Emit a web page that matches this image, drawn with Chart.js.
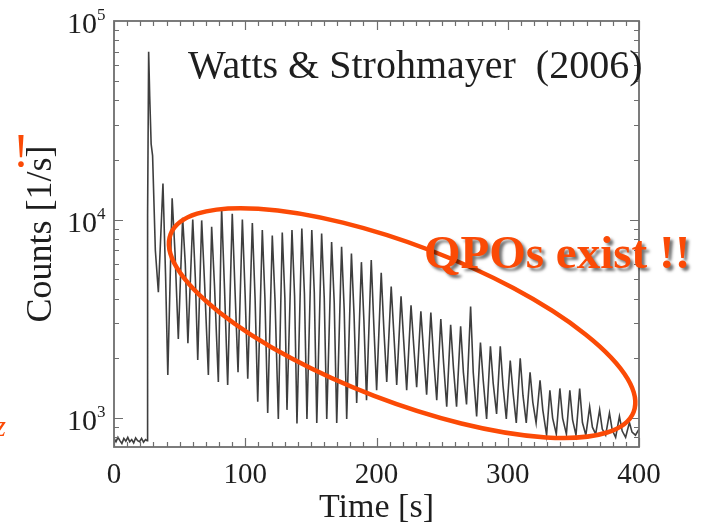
<!DOCTYPE html>
<html>
<head>
<meta charset="utf-8">
<title>Giant flare light curve</title>
<script src="https://cdn.jsdelivr.net/npm/chart.js@4.4.1/dist/chart.umd.min.js"></script>
<style>
  html, body { margin: 0; padding: 0; background: #fff; }
  #wrap { width: 708px; height: 528px; }
</style>
</head>
<body>
<div id="wrap"><canvas id="lightCurve" width="708" height="528"></canvas></div>
<script>
// time after start [s]
const timeS = [
  0, 1.5, 3, 4.5, 6, 7.5, 9, 10.5, 12, 13.5, 15, 16.5, 18, 19.5, 21, 22.5, 24, 25.2,
  25.6, 26.4, 27.2, 28.3, 29.4, 31.5, 33.8,
  37.3, 39.3, 41.0, 44.3, 46.5, 49.0, 52.3, 54.3, 56.3, 60.0, 62.0, 63.8,
  66.8, 69.0, 71.9, 74.4, 76.6, 79.5, 82.0, 84.2, 86.6, 90.1, 92.2, 94.5,
  97.8, 99.9, 101.9, 105.4, 107.5, 109.5, 113.0, 115.0, 117.1, 120.6, 122.7, 125.2,
  128.2, 130.2, 131.8, 135.6, 137.6, 139.4, 143.1, 145.1, 147.0, 150.7, 152.6, 154.5,
  158.2, 160.2, 162.1, 165.8, 167.8, 169.7, 173.4, 175.4, 177.3, 180.9, 182.9, 184.9,
  188.5, 190.4, 192.4, 196.0, 198.0, 200.1, 203.6, 205.6, 207.8, 211.2, 213.3, 215.4,
  218.7, 220.8, 223.0, 226.3, 228.4, 230.6, 233.8, 236.0, 238.2, 241.4, 243.5, 245.9,
  249.0, 251.1, 253.5, 256.5, 258.6, 261.0, 264.1, 266.2, 268.6, 271.7, 273.7, 276.3,
  279.2, 281.3, 283.9, 286.8, 288.9, 291.5, 294.3, 296.4, 298.9, 301.9, 304.0, 306.5,
  309.5, 311.6, 314.1, 317.0, 319.1, 321.6, 324.6, 326.7, 329.6, 332.1, 334.2, 337.0,
  339.7, 341.8, 344.7, 347.3, 349.4, 352.0, 354.8, 356.9, 359.5, 362.4, 364.5, 367.0,
  370.0, 372.0, 374.6, 377.5, 379.6, 382.2, 385.1, 387.2, 389.8, 392.7, 394.7, 397.3,
  400.0
];

// count rate [1/s]
const countRate = [
  790, 760, 800, 770, 745, 790, 765, 800, 760, 780, 750, 795, 770, 760, 790, 755, 780, 770,
  10500, 70000, 42000, 24000, 21000, 7000, 4300,
  15200, 5200, 1650, 12800, 6800, 2500, 10200, 6000, 2380, 10000, 5000, 1960,
  9900, 4800, 1650, 9200, 4600, 1520, 11400, 4500, 1470, 10700, 4400, 1700,
  10000, 4200, 1580, 9600, 4000, 1210, 8850, 4000, 1060, 8300, 3900, 990,
  8600, 4000, 1100, 8850, 4100, 940, 9000, 4200, 990, 8850, 4300, 945,
  8500, 4000, 990, 7700, 3800, 945, 7300, 3500, 990, 6750, 3300, 1190,
  6100, 3100, 1230, 6250, 2900, 1380, 5400, 2800, 1520, 4600, 2600, 1470,
  4100, 2400, 1380, 3700, 2300, 1430, 3450, 2100, 1310, 3400, 2000, 1230,
  3150, 1900, 1140, 2950, 1800, 1140, 2900, 1700, 1170, 3650, 1700, 1020,
  2400, 1550, 990, 2300, 1500, 1050, 2300, 1450, 990, 1950, 1350, 945,
  2000, 1300, 945, 1700, 1200, 945, 1550, 1100, 820, 1380, 1000, 830,
  1410, 1000, 830, 1380, 980, 820, 1410, 950, 820, 1140, 900, 830,
  1100, 880, 820, 1060, 870, 800, 1020, 860, 800, 950, 850, 820,
  880
];

const timeTicks = [0, 100, 200, 300, 400];
const countDecades = [3, 4, 5];

const serif = '"Liberation Serif", "DejaVu Serif", serif';
const ink = '#1e1e1e';
const orange = '#fb4a06';

// box with inward ticks on all four sides
const framePlugin = {
  id: 'frame',
  afterDatasetsDraw(chart) {
    const { ctx, chartArea: a, scales: { x, y } } = chart;
    ctx.save();
    ctx.strokeStyle = '#6e6e6e';
    ctx.lineWidth = 1.2;
    ctx.beginPath();
    for (let t = 0; t <= 400; t += 10) {
      const px = Math.round(x.getPixelForValue(t)) + 0.5;
      const len = t % 100 === 0 ? 9 : 5;
      ctx.moveTo(px, a.bottom); ctx.lineTo(px, a.bottom - len);
      ctx.moveTo(px, a.top); ctx.lineTo(px, a.top + len);
    }
    for (let d = 2; d <= 4; d++) {
      for (let m = 1; m <= 9; m++) {
        const v = m * Math.pow(10, d);
        if (v < y.min || v > y.max) continue;
        const py = Math.round(y.getPixelForValue(v)) + 0.5;
        const len = m === 1 ? 9 : 5;
        ctx.moveTo(a.left, py); ctx.lineTo(a.left + len, py);
        ctx.moveTo(a.right, py); ctx.lineTo(a.right - len, py);
      }
    }
    ctx.stroke();
    ctx.lineWidth = 1.8;
    ctx.strokeRect(a.left, a.top, a.right - a.left, a.bottom - a.top);
    ctx.restore();
  }
};

// decade labels with raised exponents, plus the annotations
const notesPlugin = {
  id: 'notes',
  afterDraw(chart) {
    const { ctx, scales: { x, y } } = chart;
    ctx.save();
    ctx.fillStyle = ink;
    ctx.textBaseline = 'alphabetic';
    countDecades.forEach(d => {
      const py = y.getPixelForValue(Math.pow(10, d));
      ctx.font = '30px ' + serif;
      ctx.textAlign = 'right';
      ctx.fillText('10', 97, py + 12);
      ctx.font = '17px ' + serif;
      ctx.textAlign = 'left';
      ctx.fillText(String(d), 97, py - 1);
    });

    ctx.font = '40px ' + serif;
    ctx.textAlign = 'left';
    ctx.fillText('Watts & Strohmayer  (2006)', 188, 78);

    // ellipse around the oscillating tail
    const cx = x.getPixelForValue(219.5);
    const cy = y.getPixelForValue(3010);
    ctx.strokeStyle = orange;
    ctx.lineWidth = 4.5;
    ctx.beginPath();
    ctx.ellipse(cx, cy, 248, 78, 21 * Math.PI / 180, 0, 2 * Math.PI);
    ctx.stroke();

    ctx.font = 'bold 47px ' + serif;
    ctx.shadowColor = 'rgba(0, 0, 0, 0.55)';
    ctx.shadowOffsetX = 3;
    ctx.shadowOffsetY = 3;
    ctx.shadowBlur = 3;
    ctx.fillStyle = orange;
    ctx.fillText('QPOs exist !!', 424, 268);
    ctx.shadowColor = 'transparent';

    // pieces of neighbouring slide text
    ctx.font = '48px ' + serif;
    ctx.textAlign = 'center';
    ctx.fillText('!', 21, 167);
    ctx.font = 'italic 30px ' + serif;
    ctx.textAlign = 'right';
    ctx.fillText('z', 6, 436);
    ctx.restore();
  }
};

const points = timeS.map((t, i) => ({ x: t, y: countRate[i] }));

new Chart(document.getElementById('lightCurve'), {
  type: 'line',
  data: {
    datasets: [{
      label: 'Counts',
      data: points,
      borderColor: 'rgba(20, 20, 20, 0.82)',
      borderWidth: 1.6,
      pointRadius: 0,
      tension: 0,
      fill: false
    }]
  },
  options: {
    responsive: false,
    animation: false,
    devicePixelRatio: 1,
    layout: { padding: { left: 0, right: 69, top: 21, bottom: 0 } },
    plugins: { legend: { display: false }, tooltip: { enabled: false } },
    scales: {
      x: {
        type: 'linear',
        min: 0,
        max: 400,
        afterBuildTicks: s => { s.ticks = timeTicks.map(v => ({ value: v })); },
        afterFit: s => { s.height = 81; },
        grid: { display: false, drawTicks: false },
        border: { display: false },
        ticks: { color: ink, font: { family: serif, size: 29 }, padding: 11, maxRotation: 0 },
        title: { display: true, text: 'Time [s]', color: ink, font: { family: serif, size: 34 }, padding: 0 }
      },
      y: {
        type: 'logarithmic',
        min: 715,
        max: 100000,
        afterFit: s => { s.width = 114; },
        grid: { display: false, drawTicks: false },
        border: { display: false },
        ticks: { display: false },
        title: { display: true, text: 'Counts [1/s]', color: ink, font: { family: serif, size: 36 }, padding: { top: 20, bottom: 0 } }
      }
    }
  },
  plugins: [framePlugin, notesPlugin]
});
</script>
</body>
</html>
